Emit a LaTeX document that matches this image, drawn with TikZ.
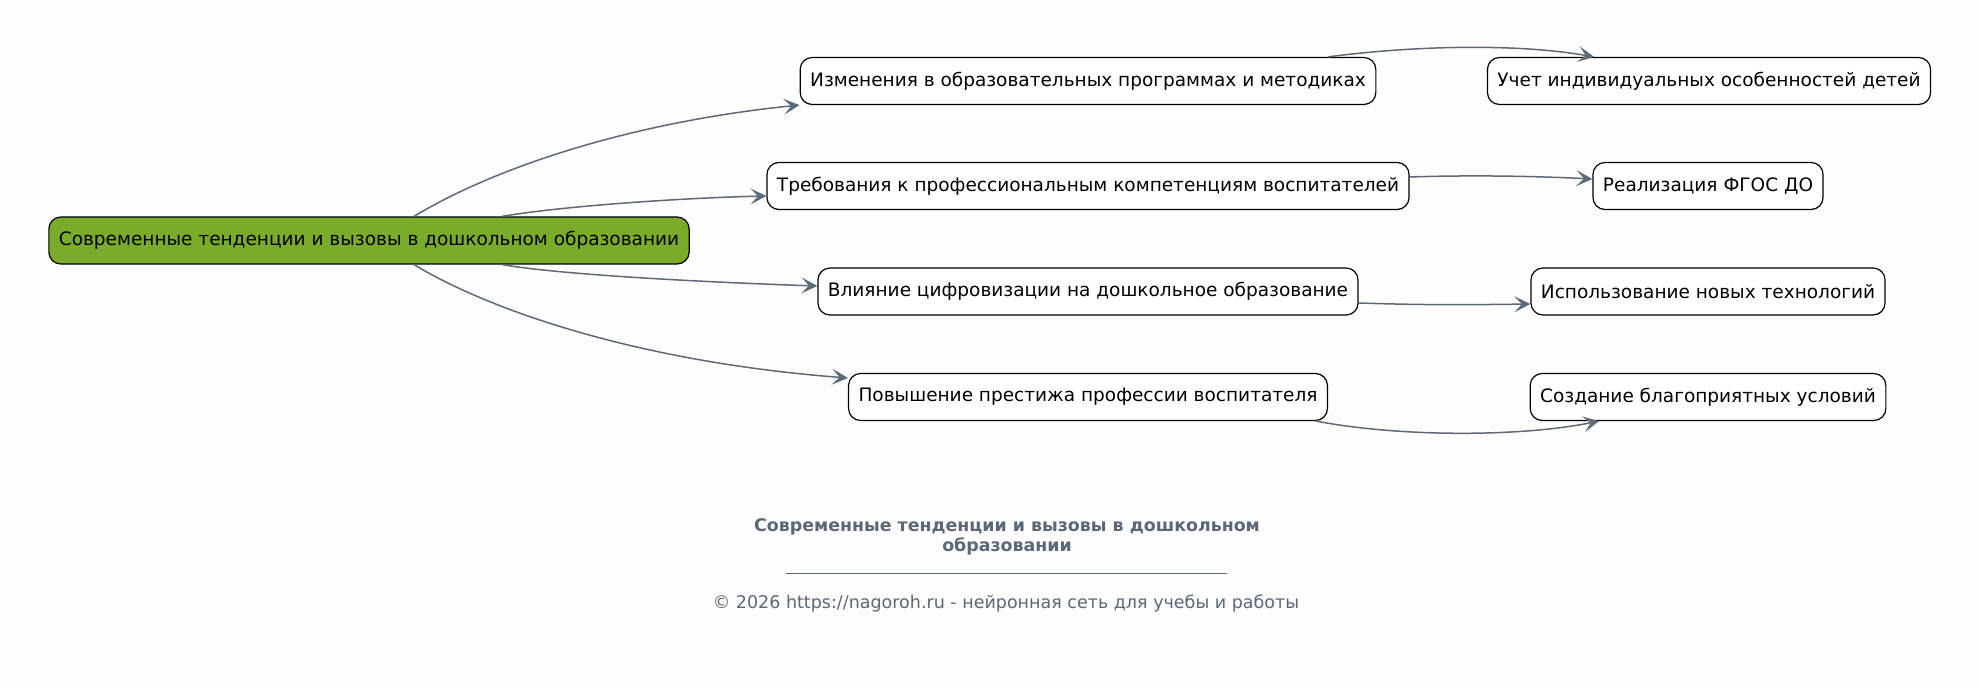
\documentclass[tikz,border=0pt]{standalone}
\usepackage{fontspec}
\setmainfont{DejaVu Sans}
\usetikzlibrary{arrows.meta,calc}
\definecolor{rootgreen}{RGB}{122,171,42}
\definecolor{edgegray}{RGB}{92,107,122}
\definecolor{titlegray}{RGB}{90,104,120}
\definecolor{bgwhite}{RGB}{253,253,253}

\begin{document}
\begin{tikzpicture}[x=0.5pt,y=-0.5pt,
    topic/.style={draw, rounded corners=6pt, fill=white, minimum height=23.5pt, inner xsep=5pt, line width=0.6pt, font=\fontsize{9.25}{11}\selectfont},
    root/.style={topic, fill=rootgreen},
    link/.style={-{Stealth[length=8pt,width=8pt,inset=3.8pt]}, edgegray, line width=0.75pt}]
        \fill[bgwhite] (0,0) rectangle (1979,688);
        \useasboundingbox (0,0) rectangle (1979,688);

        % Root
        \node[root] (root) at (369,240.5) {Современные тенденции и вызовы в дошкольном образовании};

        % Branches
        \node[topic] (changes) at (1088,81) {Изменения в образовательных программах и методиках};
        \node[topic] (skills) at (1088,186) {Требования к профессиональным компетенциям воспитателей};
        \node[topic] (digital) at (1088,291.5) {Влияние цифровизации на дошкольное образование};
        \node[topic] (prestige) at (1088,397) {Повышение престижа профессии воспитателя};

        % Leaves
        \node[topic] (individual) at (1709,81) {Учет индивидуальных особенностей детей};
        \node[topic] (fgos) at (1708,186) {Реализация ФГОС ДО};
        \node[topic] (newtech) at (1708,291.5) {Использование новых технологий};
        \node[topic] (conditions) at (1708,397) {Создание благоприятных условий};

        % Caption
        \node[font=\bfseries\fontsize{8.7}{8.6}\selectfont, text=titlegray, align=center] (caption) at (1007,537) {Современные тенденции и вызовы в дошкольном\\образовании};
        \draw[titlegray, line width=0.4pt] (786,573) -- (1227,573);
        \node[font=\fontsize{8.75}{11}\selectfont, text=titlegray] (copyright) at (1006,604) {© 2026 https://nagoroh.ru - нейронная сеть для учебы и работы};

        % Connections
        \draw[link] ($(root.north)+(45,0)$) .. controls +(86,-52) and +(-160,16) .. (changes.south west);
        \draw[link] ($(root.north)+(133,0)$) .. controls +(58,-10) and +(-87,2) .. ($(skills.west)+(0,10)$);
        \draw[link] ($(root.south)+(133,0)$) .. controls +(58,10) and +(-118,-4) .. ($(digital.west)+(0,-5.5)$);
        \draw[link] ($(root.south)+(45,0)$) .. controls +(76,46) and +(-209,-16) .. ($(prestige.west)+(0,-19)$);
        \draw[link] ($(changes.north)+(240,0)$) .. controls +(92,-12) and +(-74,-13) .. ($(individual.north)+(-115,0)$);
        \draw[link] ($(skills.east)+(0,-9)$) .. controls +(60,-2) and +(-60,-3) .. ($(fgos.west)+(0,-7)$);
        \draw[link] ($(digital.east)+(0,11.5)$) .. controls +(60,2) and +(-70,1) .. ($(newtech.west)+(0,12.5)$);
        \draw[link] ($(prestige.south)+(228,0)$) .. controls +(84,16) and +(-79,16) .. ($(conditions.south)+(-109,0)$);
    \end{tikzpicture}
\end{document}
